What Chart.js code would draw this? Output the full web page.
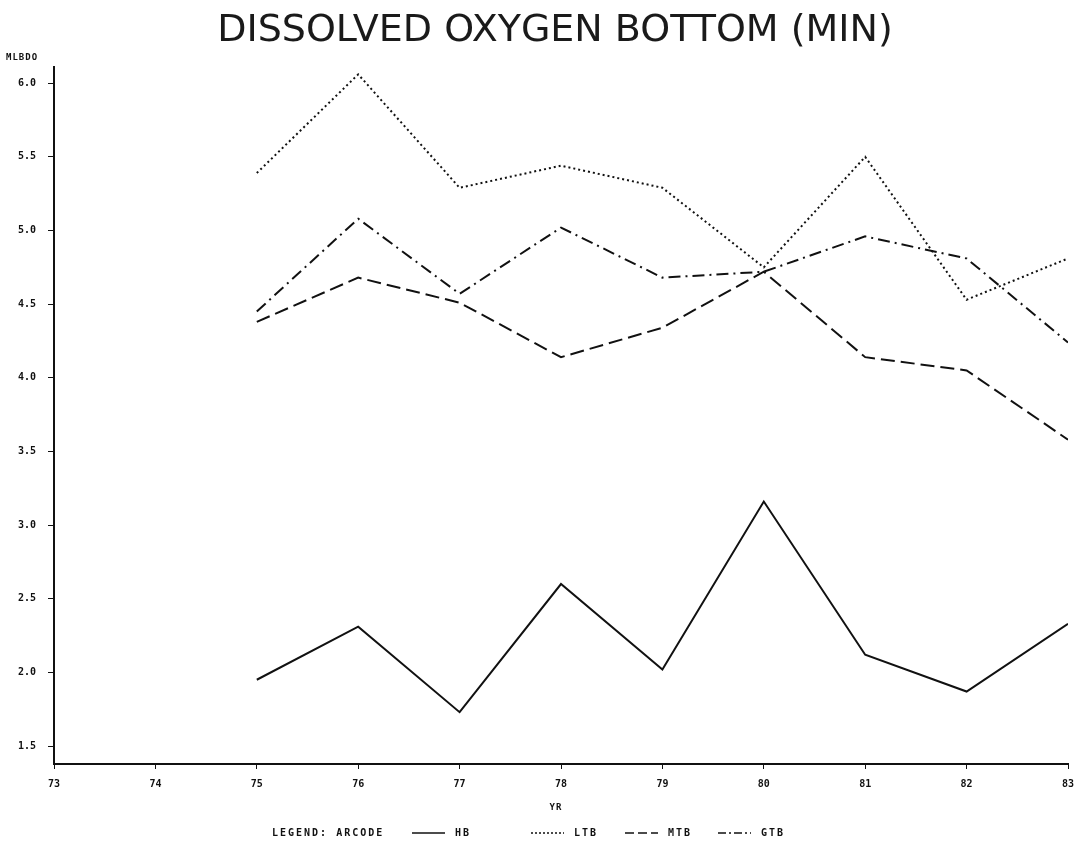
<!DOCTYPE html>
<html lang="en">
<head>
    <meta charset="UTF-8">
    <title>Dissolved Oxygen Bottom (Min)</title>
    <script src="https://cdn.jsdelivr.net/npm/chart.js"></script>
    <style>
        body {
            margin: 0;
            background: #fff;
        }
        #wrap {
            width: 1074px;
            height: 846px;
        }
    </style>
</head>
<body>
<div id="wrap"><canvas id="chart" width="1074" height="846"></canvas></div>
<script>
    // years on the x axis and the values per station code
    const years = [75, 76, 77, 78, 79, 80, 81, 82, 83];
    const hb  = [1.95, 2.31, 1.73, 2.60, 2.02, 3.16, 2.12, 1.87, 2.33];
    const ltb = [5.39, 6.06, 5.29, 5.44, 5.29, 4.75, 5.50, 4.53, 4.81];
    const mtb = [4.38, 4.68, 4.51, 4.14, 4.34, 4.72, 4.14, 4.05, 3.58];
    const gtb = [4.45, 5.08, 4.57, 5.02, 4.68, 4.72, 4.96, 4.81, 4.24];

    const yTicks = [1.5, 2.0, 2.5, 3.0, 3.5, 4.0, 4.5, 5.0, 5.5, 6.0];
    const xTicks = [73, 74, 75, 76, 77, 78, 79, 80, 81, 82, 83];

    const ink = '#111';
    const dashes = [[], [2, 3], [14, 6], [12, 5, 2, 5]];
    const legendDashes = [[], [2, 2], [9, 4], [8, 3, 2, 3]];

    function points(values) {
        return values.map((v, i) => ({ x: years[i], y: v }));
    }

    function series(label, values, dash) {
        return {
            label: label,
            data: points(values),
            borderColor: ink,
            borderWidth: 2,
            borderDash: dash,
            pointRadius: 0,
            tension: 0,
            fill: false
        };
    }

    // title, axis names and the legend line at the bottom
    const extras = {
        id: 'extras',
        afterDraw(chart) {
            const ctx = chart.ctx;
            ctx.save();
            ctx.fillStyle = '#1a1a1a';
            ctx.textBaseline = 'middle';
            ctx.textAlign = 'center';
            ctx.font = '38px "DejaVu Sans"';
            ctx.fillText('DISSOLVED OXYGEN BOTTOM (MIN)', 555, 31);

            ctx.fillStyle = ink;
            ctx.font = 'bold 9px "DejaVu Sans Mono"';
            ctx.letterSpacing = '1px';
            ctx.textAlign = 'left';
            ctx.fillText('MLBDO', 6, 58);
            ctx.textAlign = 'center';
            ctx.fillText('YR', 556, 808);

            const ly = 833;
            ctx.textAlign = 'left';
            ctx.font = 'bold 10px "DejaVu Sans Mono"';
            ctx.letterSpacing = '2px';
            ctx.fillText('LEGEND: ARCODE', 272, ly);
            const starts = [412, 531, 625, 718];
            chart.data.datasets.forEach((ds, i) => {
                const x0 = starts[i];
                ctx.beginPath();
                ctx.setLineDash(legendDashes[i]);
                ctx.lineWidth = 1.5;
                ctx.strokeStyle = ink;
                ctx.moveTo(x0, ly);
                ctx.lineTo(x0 + 33, ly);
                ctx.stroke();
                ctx.setLineDash([]);
                ctx.fillText(ds.label, x0 + 43, ly);
            });
            ctx.restore();
        }
    };

    new Chart(document.getElementById('chart'), {
        type: 'line',
        data: {
            datasets: [
                series('HB', hb, dashes[0]),
                series('LTB', ltb, dashes[1]),
                series('MTB', mtb, dashes[2]),
                series('GTB', gtb, dashes[3])
            ]
        },
        options: {
            responsive: false,
            animation: false,
            layout: {
                padding: { top: 67, right: 6, left: 0, bottom: 0 }
            },
            plugins: {
                legend: { display: false },
                title: { display: false },
                tooltip: { enabled: false }
            },
            scales: {
                x: {
                    type: 'linear',
                    min: 73,
                    max: 83,
                    afterBuildTicks: axis => { axis.ticks = xTicks.map(v => ({ value: v })); },
                    afterFit: axis => {
                        axis.height = 82;
                        axis.paddingLeft = 0;
                        axis.paddingRight = 0;
                    },
                    border: { display: true, color: ink, width: 2 },
                    grid: { drawOnChartArea: false, drawTicks: true, tickLength: 5, color: ink },
                    ticks: {
                        color: ink,
                        padding: 9,
                        maxRotation: 0,
                        font: { family: 'DejaVu Sans Mono', size: 10, weight: 'bold' },
                        callback: v => String(v)
                    }
                },
                y: {
                    min: 1.378,
                    max: 6.11,
                    afterBuildTicks: axis => { axis.ticks = yTicks.map(v => ({ value: v })); },
                    afterFit: axis => {
                        axis.width = 54;
                        axis.paddingTop = 0;
                        axis.paddingBottom = 0;
                    },
                    border: { display: true, color: ink, width: 2 },
                    grid: { drawOnChartArea: false, drawTicks: true, tickLength: 6, color: ink },
                    ticks: {
                        color: ink,
                        padding: 12,
                        font: { family: 'DejaVu Sans Mono', size: 10, weight: 'bold' },
                        callback: v => v.toFixed(1)
                    }
                }
            }
        },
        plugins: [extras]
    });
</script>
</body>
</html>
